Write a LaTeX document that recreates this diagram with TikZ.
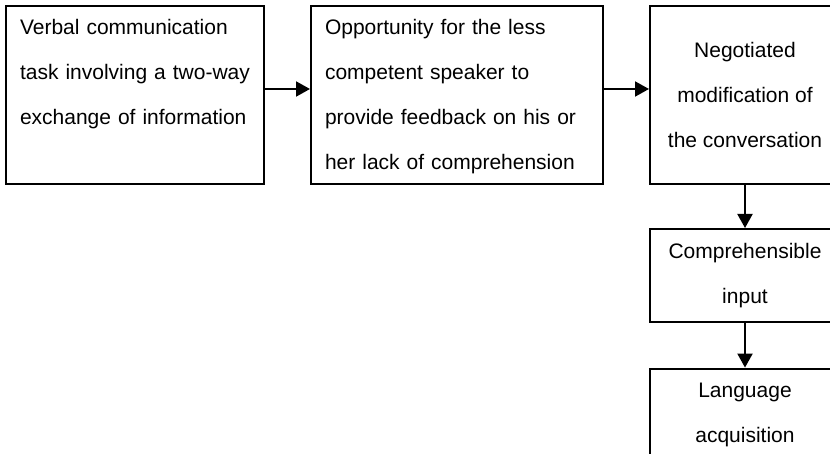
\documentclass[tikz,border=0pt]{standalone}
\usepackage{fontspec}
\setmainfont{Liberation Sans}
\usetikzlibrary{positioning,arrows.meta}
\tikzset{
  box/.style={draw, line width=2pt, inner xsep=14pt, inner ysep=14pt,
    font=\fontsize{21}{45}\selectfont},
  topbox/.style={box, align=left, text height=15pt, text depth=135pt},
  midbox/.style={box, align=center, minimum width=190pt},
  flow/.style={line width=2pt, -{Triangle[length=14pt,width=15pt]}}
}
\begin{document}
\begin{tikzpicture}[x=1pt,y=-1pt]
\useasboundingbox (0,0) rectangle (830,454);
\clip (0,0) rectangle (830,454);
% top row
\node[topbox, text width=230pt, anchor=north west] (verbal) at (5,5)
  {Verbal communication\\task involving a two-way\\exchange of information};
\node[topbox, text width=264pt, right=45pt of verbal] (opport)
  {Opportunity for the less\\competent speaker to\\provide feedback on his or\\her lack of comprehension};
\node[midbox, minimum height=178pt, right=45pt of opport] (nego)
  {Negotiated\\modification of\\the conversation};
% right column
\node[midbox, minimum height=90pt, below=43pt of nego] (comp) {Comprehensible\\input};
\node[midbox, minimum height=90pt, below=45pt of comp] (lang) {Language\\acquisition};
\draw[flow] ([yshift=6pt]verbal.east) -- ([yshift=6pt]opport.west);
\draw[flow] ([yshift=6pt]opport.east) -- ([yshift=6pt]nego.west);
\draw[flow] (nego) -- (comp);
\draw[flow] (comp) -- (lang);
\end{tikzpicture}
\end{document}
